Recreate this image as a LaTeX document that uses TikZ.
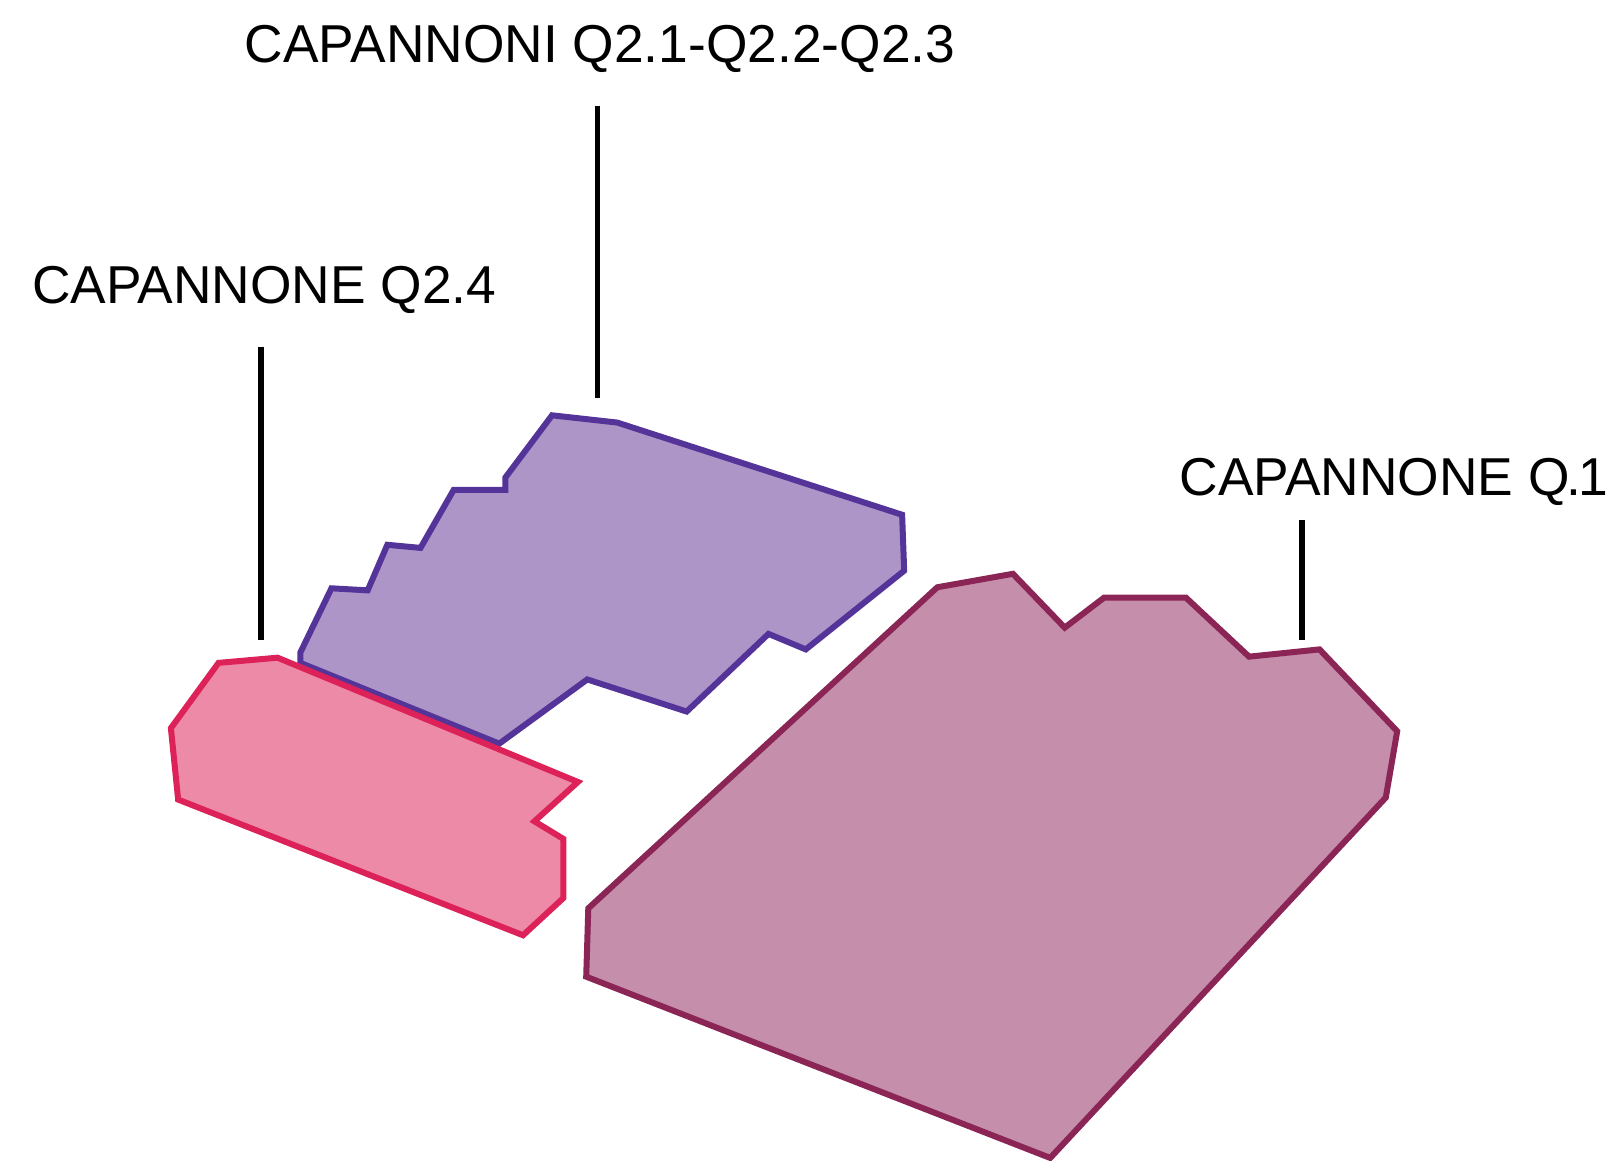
\documentclass[tikz,border=0pt]{standalone}
\usepackage{fontspec}
\setmainfont{Liberation Sans}
\definecolor{qoneF}{HTML}{C58EAB}
\definecolor{qoneD}{HTML}{8A2556}
\definecolor{qtwoF}{HTML}{AD95C7}
\definecolor{qtwoD}{HTML}{55349A}
\definecolor{qfourF}{HTML}{EC8AA7}
\definecolor{qfourD}{HTML}{DC2258}
\tikzset{
  x=0.5pt,y=-0.5pt,
  shed/.style={line width=2.9pt,line join=miter,miter limit=10},
  lead/.style={line width=2.5pt,black},
  lab/.style={anchor=base west,inner sep=0pt,font=\fontsize{25.75pt}{30pt}\selectfont,text=black}
}
\begin{document}
\begin{tikzpicture}
\useasboundingbox (0,0) rectangle (1568,1120);
\path[shed,fill=qtwoF,draw=qtwoD] (533,401) -- (596,408) -- (871,497) -- (873,551) -- (778,627) -- (742,612) -- (663,687) -- (567,656) -- (482,718) -- (290,640) -- (290,630) -- (320,568) -- (355,570) -- (374,526) -- (406,529) -- (438,473) -- (488,473) -- (488,461) -- cycle;
\path[shed,fill=qfourF,draw=qfourD] (211,640) -- (268,635) -- (558,755) -- (516,793) -- (544,810) -- (544,867) -- (505,903) -- (172,772) -- (165,703) -- cycle;
\path[shed,fill=qoneF,draw=qoneD] (905,567) -- (978,554) -- (1028,606) -- (1066,577) -- (1145,577) -- (1206,634) -- (1274,627) -- (1349,706) -- (1338,770) -- (1014,1118) -- (566,943) -- (568,877) -- cycle;
\node[lab] (t1) at (236,60) {CAPANNONI Q2.1-Q2.2-Q2.3};
\node[lab] (t2) at (30.5,293) {CAPANNONE Q2.4};
\node[lab] (t3) at (1138.5,478) {CAPANNONE Q\kern-1.5pt.\kern-1.5pt 1};
\coordinate (a1) at (577,102); \coordinate (a2) at (577,384);
\coordinate (b1) at (252,335); \coordinate (b2) at (252,618);
\coordinate (c1) at (1257,502); \coordinate (c2) at (1257,618);
\draw[lead] (a1) -- (a2);
\draw[lead] (b1) -- (b2);
\draw[lead] (c1) -- (c2);
\end{tikzpicture}
\end{document}
